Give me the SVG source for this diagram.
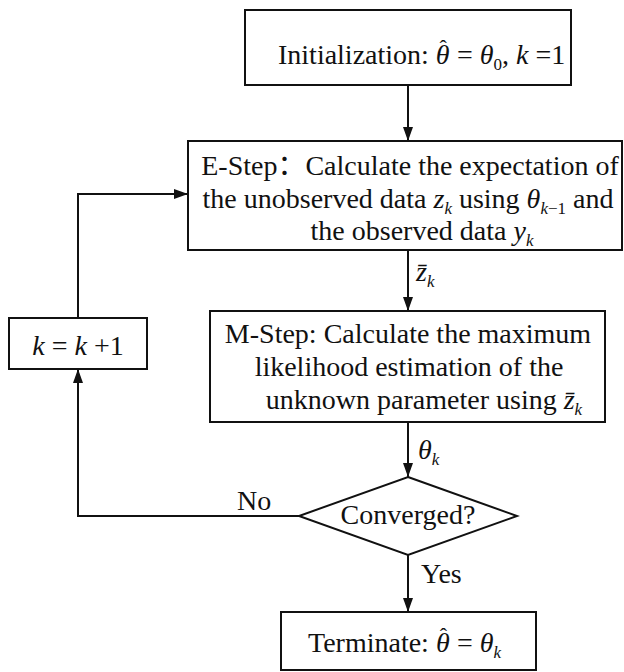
<svg xmlns="http://www.w3.org/2000/svg" width="624" height="672" viewBox="0 0 624 672">
<defs>
<marker id="ah" markerWidth="14" markerHeight="10" refX="14" refY="5" orient="auto" markerUnits="userSpaceOnUse">
<path d="M0,0 L14,5 L0,10 Z" fill="#111"/>
</marker>
<style>
.box{fill:#fff;stroke:#111;stroke-width:2}
.t{font-family:"Liberation Serif","Times New Roman","Noto Sans CJK SC",serif;font-size:28px;fill:#111}
.i{font-style:italic}
.s{font-size:17px;font-style:italic}
.u{font-size:17px;font-style:normal}
.c{fill:none;stroke:#111;stroke-width:2}
</style>
</defs>
<rect width="624" height="672" fill="#fff"/>
<g id="connectors">
<line class="c" x1="408" y1="85" x2="408" y2="141" marker-end="url(#ah)"/>
<line class="c" x1="408" y1="250" x2="408" y2="311" marker-end="url(#ah)"/>
<line class="c" x1="408" y1="422" x2="408" y2="477" marker-end="url(#ah)"/>
<line class="c" x1="408" y1="555" x2="408" y2="612" marker-end="url(#ah)"/>
<polyline class="c" points="299,516 78,516 78,369" marker-end="url(#ah)"/>
<polyline class="c" points="78,318 78,194 188,194" marker-end="url(#ah)"/>
<text class="t" x="416" y="281"><tspan class="i">z̄</tspan><tspan class="s" dy="6">k</tspan></text>
<text class="t" x="418" y="459"><tspan class="i">θ</tspan><tspan class="s" dy="6">k</tspan></text>
<text class="t" x="237" y="510">No</text>
<text class="t" x="421" y="583">Yes</text>
</g>
<g id="init">
<rect class="box" x="245" y="10" width="326" height="75"/>
<text class="t" x="278" y="64">Initialization: <tspan class="i">θ</tspan><tspan dx="-10" dy="-9" font-size="22">ˆ</tspan><tspan dx="3" dy="9"> = </tspan><tspan class="i">θ</tspan><tspan class="u" dy="6">0</tspan><tspan dy="-6">, </tspan><tspan class="i">k</tspan> =1</text>
</g>
<g id="estep">
<rect class="box" x="188" y="141" width="434" height="109"/>
<text class="t" x="410" y="175" text-anchor="middle">E-Step：Calculate the expectation of</text>
<text class="t" x="408" y="208" text-anchor="middle">the unobserved data <tspan class="i">z</tspan><tspan class="s" dy="6">k</tspan><tspan dy="-6"> using </tspan><tspan class="i">θ</tspan><tspan class="s" dy="6">k</tspan><tspan class="u">−1</tspan><tspan dy="-6"> and</tspan></text>
<text class="t" x="422" y="240" text-anchor="middle">the observed data <tspan class="i">y</tspan><tspan class="s" dy="6">k</tspan></text>
</g>
<g id="mstep">
<rect class="box" x="210" y="311" width="395" height="111"/>
<text class="t" x="408" y="343" text-anchor="middle">M-Step: Calculate the maximum</text>
<text class="t" x="409" y="376" text-anchor="middle">likelihood estimation of the</text>
<text class="t" x="424" y="409" text-anchor="middle">unknown parameter using <tspan class="i">z̄</tspan><tspan class="s" dy="6">k</tspan></text>
</g>
<g id="kinc">
<rect class="box" x="9" y="318" width="138" height="51"/>
<text class="t" x="78" y="355" text-anchor="middle"><tspan class="i">k</tspan> = <tspan class="i">k</tspan> +1</text>
</g>
<g id="converged">
<polygon class="box" points="408,477 517,516 408,555 299,516"/>
<text class="t" x="408" y="524" text-anchor="middle">Converged?</text>
</g>
<g id="terminate">
<rect class="box" x="281" y="612" width="255" height="58"/>
<text class="t" x="308" y="652">Terminate:  <tspan class="i">θ</tspan><tspan dx="-10" dy="-9" font-size="22">ˆ</tspan><tspan dx="3" dy="9"> = </tspan><tspan class="i">θ</tspan><tspan class="s" dy="6">k</tspan></text>
</g>
</svg>
